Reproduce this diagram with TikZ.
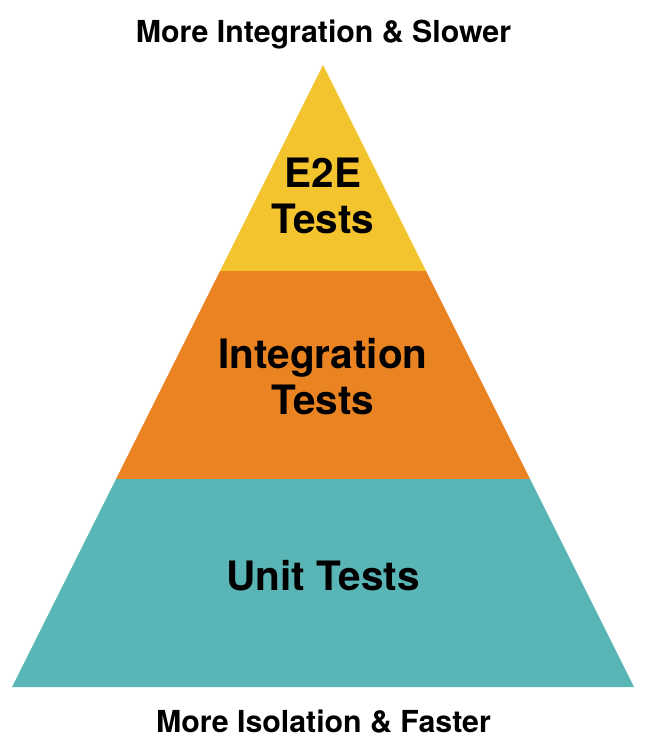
\documentclass[tikz,border=0pt]{standalone}
\usepackage{fontspec}
\setmainfont{TeX Gyre Heros}
\definecolor{pyellow}{RGB}{243,196,46}
\definecolor{porange}{RGB}{234,131,33}
\definecolor{pteal}{RGB}{90,182,182}
\begin{document}
\begin{tikzpicture}[x=1pt,y=-1pt,
  layerlabel/.style={font=\bfseries\fontsize{40.5}{46}\selectfont,align=center,inner sep=0pt},
  sidelabel/.style={font=\bfseries\fontsize{30.3}{34}\selectfont,inner sep=0pt,anchor=base}]
\useasboundingbox (0,0) rectangle (647,750);
\coordinate (apex) at (323,65);
\coordinate (bl) at (12,687);
\coordinate (br) at (634,687);
\coordinate (yl) at (220,271);
\coordinate (yr) at (426,271);
\coordinate (ol) at (116,479);
\coordinate (or) at (530,479);
\fill[pyellow] (apex) -- (yr) -- (yl) -- cycle;
\fill[porange] (yl) -- (yr) -- (or) -- (ol) -- cycle;
\fill[pteal] (ol) -- (or) -- (br) -- (bl) -- cycle;
\node[layerlabel] (e2e) at (323,195.5) {E2E\\Tests};
\node[layerlabel] (integ) at (323,376.5) {Integration\\Tests};
\node[layerlabel] (unit) at (323,576) {Unit Tests};
\node[sidelabel] (top) at (323.5,42) {More Integration \& Slower};
\node[sidelabel] (bottom) at (323.5,732) {More Isolation \& Faster};
\end{tikzpicture}
\end{document}
